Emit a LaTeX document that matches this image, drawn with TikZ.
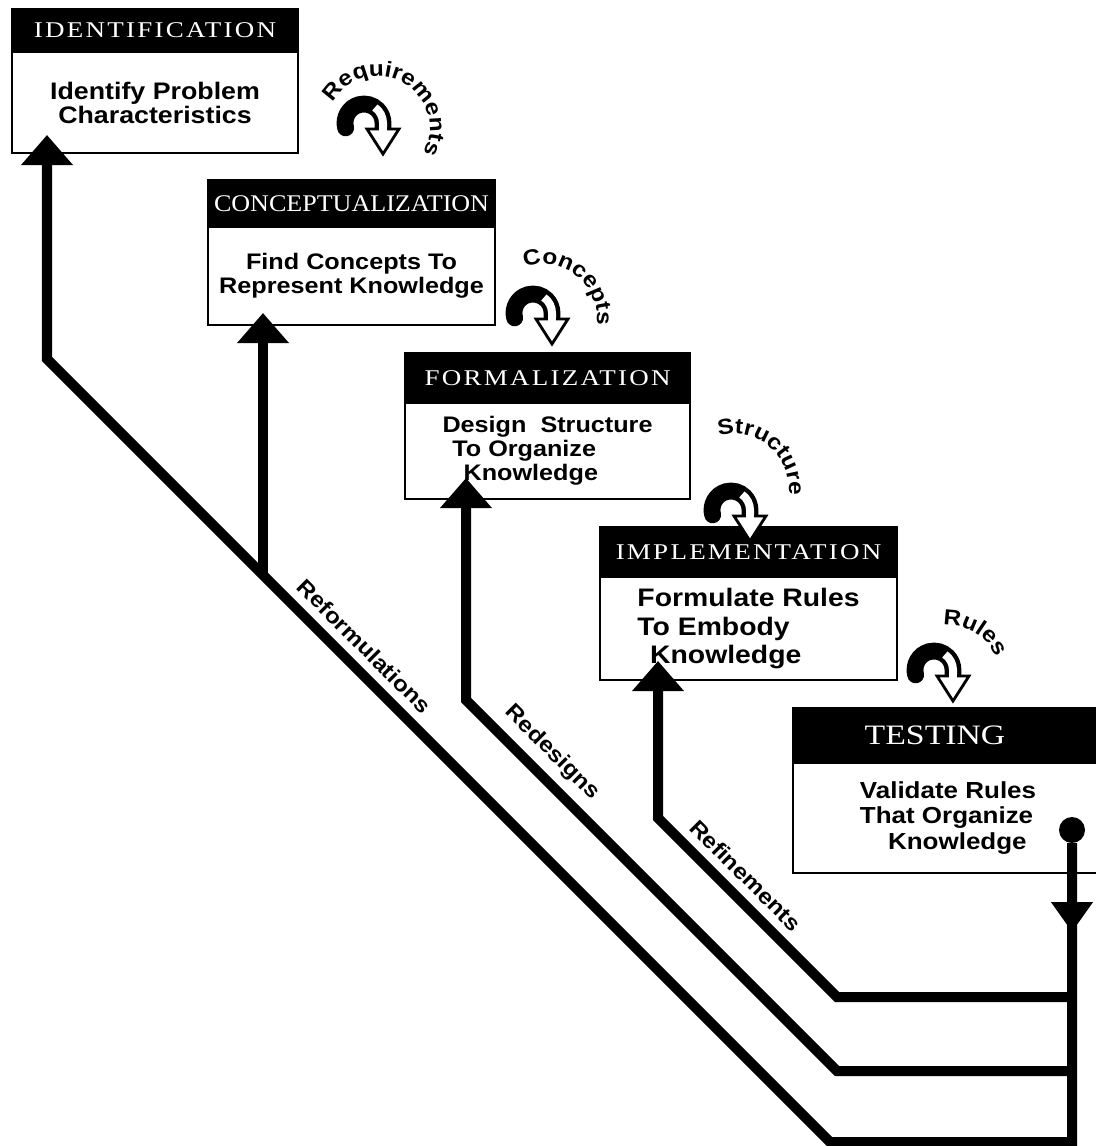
\documentclass[tikz,border=0pt]{standalone}
\usepackage{fontspec}
\newfontfamily\bodyfam{Liberation Sans}[FakeStretch=1.12]
\newfontfamily\capsfont{Liberation Serif}[FakeStretch=1.2, LetterSpace=10]
\newfontfamily\capsfontnarrow{Liberation Serif}[FakeStretch=1.2]
\newfontfamily\capsfonttight{Liberation Serif}[FakeStretch=1.09]
\newcommand\arcfont{\bodyfam\bfseries\fontsize{15.5}{15.5}\selectfont}
\usetikzlibrary{positioning}
\usetikzlibrary{arrows.meta}
\usetikzlibrary{decorations.text}

\tikzset{
    head/.style={fill=black, draw=black, line width=1.5pt, text=white,
        inner sep=0pt, outer sep=0pt, anchor=north west},
    body/.style={draw=black, fill=white, line width=1.5pt, inner sep=0pt,
        outer sep=0pt, font=\bodyfam\bfseries\fontsize{16}{17}\selectfont},
    feed/.style={line width=0.25cm},
    up/.style={-{Triangle[width=1.25cm,length=0.75cm]}},
    lbl/.style={font=\bodyfam\bfseries\fontsize{15.5}{16}\selectfont,
        sloped, above=5pt, inner sep=1pt},
    pics/turn/.style={code={
        \draw[line width=0.42cm, line cap=round] (-195:19)
            arc[start angle=-195, end angle=0, radius=19] -- ++(0,6);
        \draw[white, line width=0.2cm] (-55:19)
            arc[start angle=-55, end angle=0, radius=19] -- ++(0,9);
        \filldraw[fill=white, draw=black, line width=0.07cm] (3,6) -- (35,6) -- (19,31) -- cycle;
        \draw[white, line width=0.2cm] (19,2) -- (19,10);
    }}
}

\begin{document}
\begin{tikzpicture}[x=0.025cm, y=-0.025cm]
    \useasboundingbox (0,0) rectangle (1096,1146);
    \clip (0,0) rectangle (1096,1146);

    % stages
    \node[head, minimum width=7.15cm, minimum height=1.075cm,
        font=\capsfont\fontsize{16}{16}\selectfont] (idHead) at (12,9) {IDENTIFICATION};
    \node[body, below=0pt of idHead, minimum width=7.15cm, minimum height=2.525cm,
        align=center, font=\bodyfam\bfseries\fontsize{17}{17}\selectfont]
        (idBody) {Identify Problem\\Characteristics};

    \node[head, minimum width=7.175cm, minimum height=1.175cm,
        font=\capsfonttight\fontsize{17}{17}\selectfont] (cpHead) at (208,180) {CONCEPTUALIZATION};
    \node[body, below=0pt of cpHead, minimum width=7.175cm, minimum height=2.45cm,
        align=center] (cpBody) {Find Concepts To\\Represent Knowledge};

    \node[head, minimum width=7.125cm, minimum height=1.25cm,
        font=\capsfont\fontsize{16}{16}\selectfont] (fmHead) at (405,353) {FORMALIZATION};
    \node[body, below=0pt of fmHead, minimum width=7.125cm, minimum height=2.4cm,
        align=left] (fmBody) {Design\ \ Structure\\\hspace*{7pt}To Organize\\\hspace*{15pt}Knowledge};

    \node[head, minimum width=7.425cm, minimum height=1.25cm,
        font=\capsfont\fontsize{16}{16}\selectfont] (imHead) at (600,527) {IMPLEMENTATION};
    \node[body, below=0pt of imHead, minimum width=7.425cm, minimum height=2.575cm,
        align=left, font=\bodyfam\bfseries\fontsize{18}{20}\selectfont]
        (imBody) {Formulate Rules\\To Embody\\\hspace*{9pt}Knowledge};

    \node[head, minimum width=7.75cm, minimum height=1.375cm,
        font=\capsfontnarrow\fontsize{20}{20}\selectfont] (tsHead) at (793,708) {TESTING\hspace*{0.65cm}};
    \node[body, below=0pt of tsHead, minimum width=7.75cm, minimum height=2.75cm,
        align=left, font=\bodyfam\bfseries\fontsize{16.5}{18}\selectfont]
        (tsBody) {Validate Rules\\That Organize\\\hspace*{20pt}Knowledge};

    % hand-over arrows
    \pic (rqTurn) at (364,123) {turn};
    \pic (ccTurn) at (533,313) {turn};
    \pic (stTurn) at (731,510) {turn};
    \pic (ruTurn) at (934,670) {turn};

    \path[decorate, decoration={text along path, text align=center,
        text={|\arcfont|Requirements}}]
        (378,128) ++(-161:52) arc[start angle=-161, end angle=39, radius=52];
    \path[decorate, decoration={text along path, text align=center,
        text={|\arcfont|Concepts}}]
        (543,318) ++(-151:54) arc[start angle=-151, end angle=49, radius=54];
    \path[decorate, decoration={text along path, text align=center,
        text={|\arcfont|Structure}}]
        (735,488) ++(-150:54) arc[start angle=-150, end angle=50, radius=54];
    \path[decorate, decoration={text along path, text align=center,
        text={|\arcfont|Rules}}]
        (947,679) ++(-159:54) arc[start angle=-159, end angle=41, radius=54];

    % feedback lines
    \coordinate (tsTip) at (1072,932);
    \coordinate (jn1) at (1072,997);
    \coordinate (jn2) at (1072,1071);
    \coordinate (jn3) at (1072,1142);
    \coordinate (rn2) at (837,997);
    \coordinate (rn1) at (658,818);
    \coordinate (imIn) at (658,661);
    \coordinate (rd2) at (837,1071);
    \coordinate (rd1) at (466,700);
    \coordinate (fmIn) at (466,478);
    \coordinate (rf3) at (830,1142);
    \coordinate (rf2) at (47,359);
    \coordinate (idIn) at (47,135);
    \coordinate (cpFoot) at (263,575);
    \coordinate (cpIn) at (263,313);

    \node[circle, fill=black, inner sep=0pt, minimum size=0.65cm] (tsOut) at (1072,830) {};
    \draw[feed, up] (tsOut) -- (jn3) -- (rf3)
        -- node[lbl, pos=0.614] {Reformulations} (rf2) -- (idIn);
    \draw[feed, -{Triangle[width=1cm,length=0.75cm]}] (tsOut) -- (tsTip);
    \draw[feed, up] (jn2) -- (rd2)
        -- node[lbl, pos=0.813] {Redesigns} (rd1) -- (fmIn);
    \draw[feed, up] (jn1) -- (rn2)
        -- node[lbl, pos=0.595] {Refinements} (rn1) -- (imIn);
    \draw[feed, up] (cpFoot) -- (cpIn);
\end{tikzpicture}
\end{document}
